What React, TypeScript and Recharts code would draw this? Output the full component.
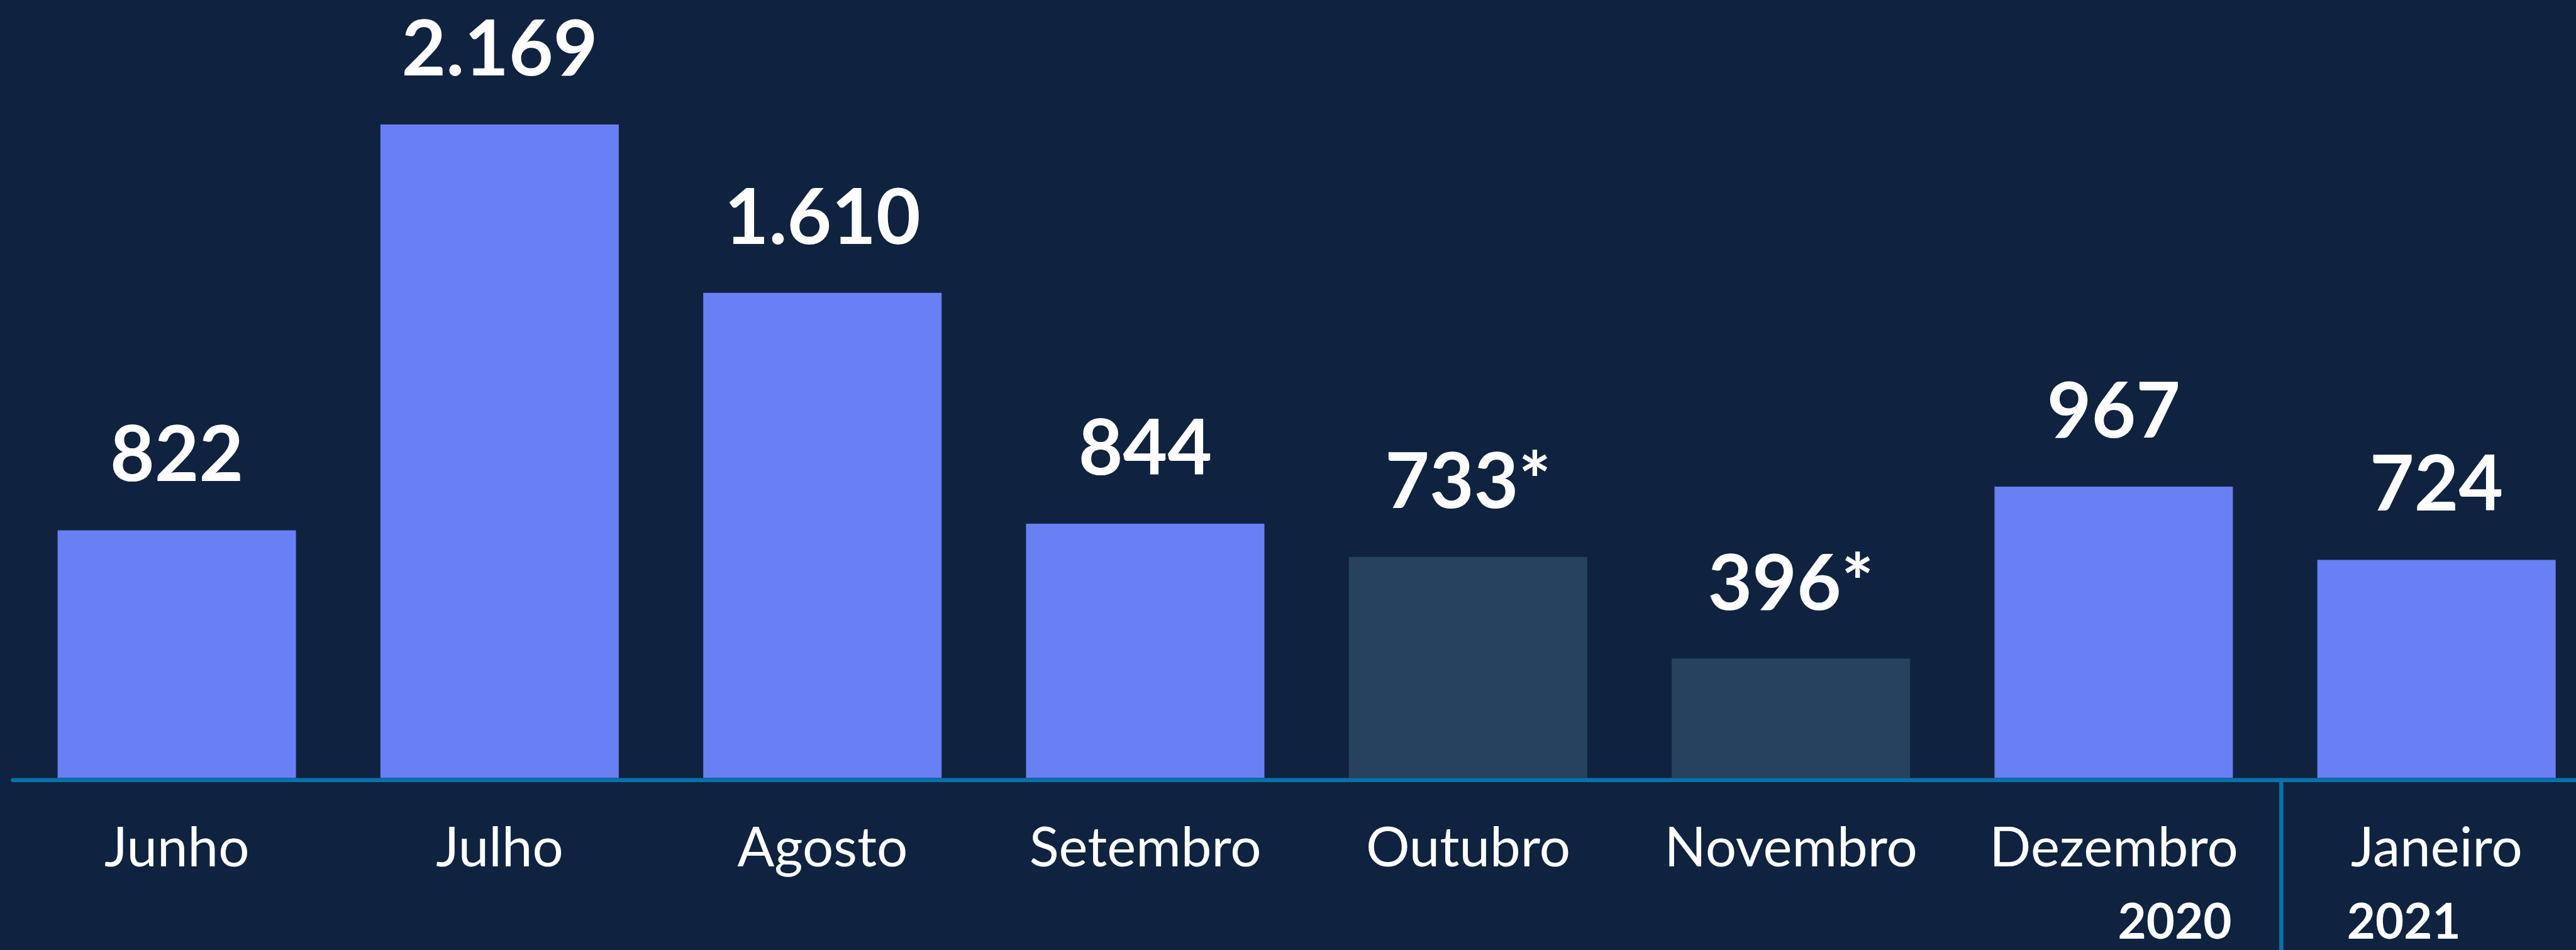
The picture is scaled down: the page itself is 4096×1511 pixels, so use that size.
import React from "react";
import { BarChart, Bar, XAxis, YAxis, Cell, LabelList } from "recharts";

const months = ["Junho", "Julho", "Agosto", "Setembro", "Outubro", "Novembro", "Dezembro", "Janeiro"];
const values = [822, 2169, 1610, 844, 733, 396, 967, 724];
const partial = [false, false, false, false, true, true, false, false];
const years = ["", "", "", "", "", "", "2020", "2021"];

const BG = "#0f2340";
const BAR = "#6880f4";
const BAR_DIM = "#27425f";
const LINE = "#0a72a8";
const FONT = "Lato, 'Open Sans', sans-serif";

const data = months.map((m, i) => ({ month: m, value: values[i], partial: partial[i], year: years[i] }));

const fmt = (v: number) => String(v).replace(/\B(?=(\d{3})+(?!\d))/g, ".");

const MonthTick = (props: any) => {
  const { x, y, payload, index } = props;
  const year = years[index];
  return (
    <g>
      <text x={x} y={y + 137} textAnchor="middle" fill="#ffffff" fontSize={87} fontFamily={FONT}>
        {payload.value}
      </text>
      {year && (
        <text
          x={x + (index === 6 ? 97 : -52)}
          y={y + 252}
          textAnchor="middle"
          fill="#ffffff"
          fontSize={78}
          fontWeight={700}
          fontFamily={FONT}
        >
          {year}
        </text>
      )}
      {index === 7 && (
        <line x1={x - 247} x2={x - 247} y1={y - 3} y2={y + 300} stroke={LINE} strokeWidth={6.6} />
      )}
    </g>
  );
};

const ValueLabel = (props: any) => {
  const { x, y, width, value, index } = props;
  return (
    <text
      x={x + width / 2}
      y={y - 78}
      textAnchor="middle"
      fill="#ffffff"
      fontSize={122}
      fontWeight={700}
      fontFamily={FONT}
    >
      {fmt(value) + (partial[index] ? "*" : "")}
    </text>
  );
};

export default function App() {
  return (
    <div style={{ position: "absolute", left: 0, top: 0, width: 4096, height: 1511, background: BG }}>
      <BarChart
        width={4096}
        height={1511}
        data={data}
        margin={{ top: 39.3, right: 0, bottom: 0, left: 20.5 }}
      >
        <YAxis hide domain={[-7, 2500]} />
        <XAxis
          dataKey="month"
          height={270.3}
          interval={0}
          tickSize={0}
          tickMargin={0}
          tickLine={false}
          axisLine={{ stroke: LINE, strokeWidth: 6.6, strokeLinecap: "round" }}
          padding={{ left: 4.1, right: -35 }}
          tick={<MonthTick />}
        />
        <Bar dataKey="value" barSize={379} isAnimationActive={false}>
          {data.map((d, i) => (
            <Cell key={i} fill={d.partial ? BAR_DIM : BAR} />
          ))}
          <LabelList dataKey="value" content={<ValueLabel />} />
        </Bar>
      </BarChart>
    </div>
  );
}
